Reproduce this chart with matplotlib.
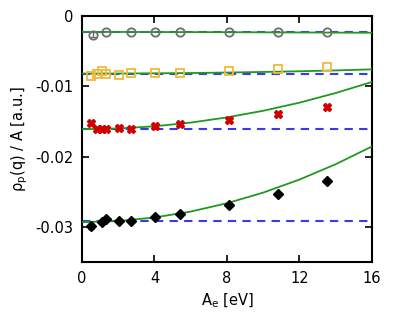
import matplotlib
matplotlib.use("Agg")
import matplotlib.pyplot as plt

plt.rcParams["axes.unicode_minus"] = False
plt.rcParams["font.family"] = ["DejaVu Sans"]

# data
x_gray = [0.62, 1.35, 2.7, 4.05, 5.4, 8.1, 10.8, 13.5]
y_gray = [-0.00266, -0.00228, -0.00228, -0.00229, -0.00229, -0.00230, -0.00231, -0.00230]

x_yel = [0.48, 0.81, 1.09, 1.35, 2.03, 2.7, 4.05, 5.4, 8.1, 10.8, 13.5]
y_yel = [-0.0085, -0.0082, -0.0079, -0.0082, -0.0084, -0.0081, -0.0081, -0.0081,
         -0.0079, -0.0076, -0.0072]

x_red = [0.48, 0.81, 1.09, 1.35, 2.03, 2.7, 4.05, 5.4, 8.1, 10.8, 13.5]
y_red = [-0.0152, -0.0161, -0.0161, -0.0161, -0.0159, -0.0160, -0.0157, -0.0154,
         -0.0148, -0.0139, -0.0130]

x_blk = [0.5, 1.08, 1.35, 2.03, 2.7, 4.05, 5.4, 8.1, 10.8, 13.5]
y_blk = [-0.0299, -0.0293, -0.0288, -0.0291, -0.0292, -0.0286, -0.0281, -0.0268,
         -0.0253, -0.0235]

# green fit curves
x_fit = [0, 2, 4, 6, 8, 10, 12, 14, 16]
fit_gray = [-0.00228, -0.00229, -0.00230, -0.00231, -0.00232, -0.00234, -0.00236, -0.00238, -0.00240]
fit_yel = [-0.00820, -0.00819, -0.00816, -0.00812, -0.00805, -0.00797, -0.00787, -0.00775, -0.00760]
fit_red = [-0.01610, -0.01600, -0.01568, -0.01516, -0.01442, -0.01348, -0.01233, -0.01096, -0.00939]
fit_blk = [-0.02930, -0.02913, -0.02863, -0.02779, -0.02661, -0.02510, -0.02325, -0.02107, -0.01855]

# blue dashed reference levels
levels = [-0.0023, -0.0083, -0.0161, -0.0292]

# error bars on the first point of the gray and black sets
err_first = [0.0003, 0.0004]

fig = plt.figure(figsize=(3.99, 3.30), dpi=100)
ax = fig.add_axes([0.2055, 0.205, 0.7265, 0.747])

for lv in levels:
    ax.axhline(lv, color="#3a3ae8", lw=1.5, ls=(0, (4, 3)), zorder=2)
for fy in (fit_gray, fit_yel, fit_red, fit_blk):
    ax.plot(x_fit, fy, color="#1f9a1f", lw=1.3, zorder=3)

ax.plot(x_gray, y_gray, ls="none", marker="o", ms=6, mfc="none", mec="#6e6e6e",
        mew=1.3, zorder=4)
ax.errorbar(x_gray[:1], y_gray[:1], yerr=err_first[0], fmt="none", ecolor="#6e6e6e",
            elinewidth=1, capsize=2, zorder=4)
ax.plot(x_yel, y_yel, ls="none", marker="s", ms=6, mfc="none", mec="#f2b73e",
        mew=1.3, zorder=4)
ax.plot(x_red, y_red, ls="none", marker="X", ms=6, color="#d10000", mec="#d10000",
        zorder=4)
ax.plot(x_blk, y_blk, ls="none", marker="D", ms=5, color="black", zorder=4)
ax.errorbar(x_blk[:1], y_blk[:1], yerr=err_first[1], fmt="none", ecolor="black",
            elinewidth=1, capsize=2, zorder=4)

ax.set_xlim(0, 16)
ax.set_ylim(-0.035, 0)
ax.set_xticks([0, 4, 8, 12, 16])
ax.set_yticks([0, -0.01, -0.02, -0.03])
ax.set_yticklabels(["0", "-0.01", "-0.02", "-0.03"])
ax.tick_params(direction="in", top=True, right=True, length=5, width=1.2,
               labelsize=10.5, pad=6)
for s in ax.spines.values():
    s.set_linewidth(1.5)

ax.set_xlabel(r"A$_\mathregular{e}$ [eV]", fontsize=10.5)
ax.set_ylabel(r"$\mathregular{\rho_p}$(q) / A [a.u.]", fontsize=10.5)

fig.savefig("out.png", dpi=100)
